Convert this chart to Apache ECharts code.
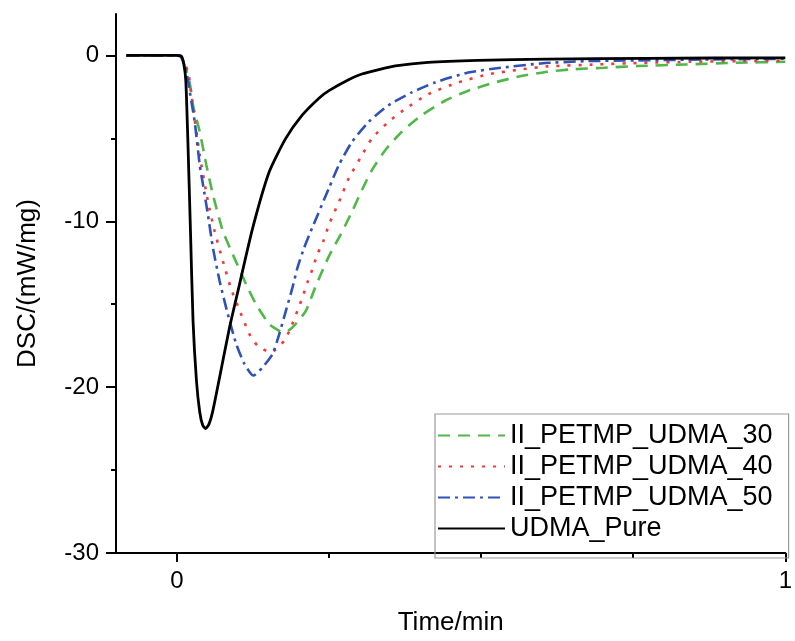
<!DOCTYPE html>
<html>
<head>
<meta charset="utf-8">
<script src="https://cdn.jsdelivr.net/npm/echarts@6/dist/echarts.min.js"></script>
<style>html,body{margin:0;padding:0;background:#fff;}#chart{width:795px;height:641px;}</style>
</head>
<body>
<div id="chart"></div>
<script>
// ---- data ----
const seriesNames = ['II_PETMP_UDMA_30', 'II_PETMP_UDMA_40', 'II_PETMP_UDMA_50', 'UDMA_Pure'];
const xTickLabels = [0, 1];
const yTickLabels = [-30, -20, -10, 0];

const p30Time = [-0.083, -0.01, 0, 0.007, 0.0201, 0.0266, 0.0376, 0.0485, 0.0593, 0.0757, 0.092, 0.1139, 0.1302, 0.152, 0.1683, 0.1765, 0.19, 0.212, 0.2283, 0.25, 0.2691, 0.2881, 0.3044, 0.3208, 0.3427, 0.3698, 0.4025, 0.4407, 0.4788, 0.5224, 0.5658, 0.6095, 0.6475, 0.7021, 0.7565, 0.8382, 0.9199, 1.0];
const p30Dsc  = [0, 0, 0, -0.1, -1.43, -3.0, -4.6, -6.6, -8.4, -10.6, -12.0, -13.8, -15.0, -16.2, -16.6, -16.7, -16.4, -15.4, -13.9, -12.1, -10.8, -9.4, -8.1, -6.9, -5.7, -4.6, -3.6, -2.73, -2.13, -1.63, -1.24, -0.98, -0.84, -0.74, -0.64, -0.54, -0.44, -0.38];

const p40Time = [-0.083, -0.01, 0, 0.007, 0.0185, 0.024, 0.0376, 0.0511, 0.0621, 0.0757, 0.0894, 0.1002, 0.1193, 0.1328, 0.1547, 0.1765, 0.1874, 0.1982, 0.2064, 0.2145, 0.2227, 0.2309, 0.2418, 0.25, 0.2691, 0.2827, 0.3044, 0.3208, 0.348, 0.3725, 0.4134, 0.4624, 0.5114, 0.5658, 0.6095, 0.6912, 0.7675, 0.8436, 0.9199, 1.0];
const p40Dsc  = [0, 0, 0, -0.1, -1.0, -2.4, -6.0, -8.8, -10.6, -12.4, -14.1, -15.1, -16.8, -17.5, -17.9, -17.2, -16.4, -15.4, -14.6, -13.7, -12.9, -12.0, -11.1, -10.2, -8.6, -7.4, -6.0, -5.0, -4.0, -3.3, -2.33, -1.63, -1.14, -0.84, -0.66, -0.54, -0.44, -0.38, -0.34, -0.32];

const p50Time = [-0.083, -0.01, 0, 0.007, 0.0158, 0.024, 0.0294, 0.0376, 0.043, 0.0511, 0.0593, 0.0703, 0.0838, 0.0976, 0.1111, 0.1258, 0.141, 0.1574, 0.1683, 0.1792, 0.19, 0.1982, 0.2092, 0.2201, 0.25, 0.2663, 0.2881, 0.3154, 0.348, 0.3861, 0.4243, 0.4788, 0.5332, 0.5985, 0.6748, 0.7565, 0.8655, 1.0];
const p50Dsc  = [0, 0, 0, -0.1, -1.0, -2.8, -4.0, -6.6, -7.8, -9.6, -11.6, -13.6, -15.6, -17.4, -18.6, -19.3, -18.8, -18.0, -16.8, -15.4, -14.0, -12.8, -11.6, -10.6, -8.0, -6.6, -5.2, -4.0, -3.0, -2.23, -1.63, -1.03, -0.74, -0.48, -0.34, -0.30, -0.24, -0.2];

const pureTime = [-0.083, -0.011, 0, 0.0077, 0.0114, 0.0147, 0.0180, 0.0224, 0.0266, 0.0322, 0.0376, 0.0425, 0.0474, 0.0531, 0.0593, 0.0703, 0.0866, 0.0992, 0.1247, 0.152, 0.179, 0.206, 0.234, 0.250, 0.283, 0.304, 0.332, 0.359, 0.413, 0.495, 0.609, 0.773, 1.0];
const pureDsc  = [0, 0, 0, -0.05, -0.5, -1.5, -5.0, -10.6, -16.0, -19.6, -21.5, -22.3, -22.5, -22.2, -21.4, -19.4, -16.4, -14.4, -10.4, -7.0, -5.0, -3.6, -2.56, -2.12, -1.45, -1.12, -0.85, -0.63, -0.42, -0.30, -0.22, -0.17, -0.14];

// ---- chart ----
function pairs(xs, ys) { return xs.map((x, i) => [x, ys[i]]); }
const FONT = '"Liberation Sans", Arial, sans-serif';
const chart = echarts.init(document.getElementById('chart'), null, { renderer: 'canvas' });

const lineSeries = (name, xs, ys, color, type, width) => ({
  name: name,
  type: 'line',
  data: pairs(xs, ys),
  xAxisIndex: 0,
  yAxisIndex: 0,
  symbol: 'none',
  smooth: 0.2,
  lineStyle: { color: color, width: width, type: type },
  itemStyle: { color: color },
  emphasis: { disabled: true },
  animation: false
});

chart.setOption({
  animation: false,
  backgroundColor: '#ffffff',
  grid: { left: 116, right: 6, top: 14, bottom: 83, containLabel: false },
  legend: {
    orient: 'vertical',
    left: 435,
    top: 414,
    data: seriesNames,
    itemWidth: 67,
    itemHeight: 2,
    itemGap: 4,
    padding: [8, 16, 16, 2],
    borderColor: '#9a9a9a',
    borderWidth: 1.2,
    itemStyle: { opacity: 0, borderWidth: 0 },
    textStyle: { fontFamily: FONT, fontSize: 27, color: '#000' },
    selectedMode: false
  },
  xAxis: [
    {
      type: 'value', min: -0.1, max: 1, position: 'bottom',
      name: 'Time/min', nameLocation: 'middle', nameGap: 57,
      nameTextStyle: { fontFamily: FONT, fontSize: 26, color: '#000' },
      axisLine: { show: true, onZero: false, lineStyle: { color: '#000', width: 2 } },
      axisTick: { show: true, inside: false, length: 9, customValues: xTickLabels, lineStyle: { color: '#000', width: 2 } },
      axisLabel: { show: true, customValues: xTickLabels, margin: 16, fontFamily: FONT, fontSize: 24, color: '#000' },
      splitLine: { show: false }
    },
    {
      type: 'value', min: -0.1, max: 1, position: 'bottom',
      axisLine: { show: false, onZero: false },
      axisTick: { show: true, inside: false, length: 5, customValues: [0.25, 0.5, 0.75], lineStyle: { color: '#000', width: 2 } },
      axisLabel: { show: false },
      splitLine: { show: false }
    }
  ],
  yAxis: [
    {
      type: 'value', min: -30, max: 2.5, position: 'left',
      name: 'DSC/(mW/mg)', nameLocation: 'middle', nameGap: 75,
      nameTextStyle: { fontFamily: FONT, fontSize: 26, color: '#000' },
      axisLine: { show: true, onZero: false, lineStyle: { color: '#000', width: 2 } },
      axisTick: { show: true, inside: false, length: 10, customValues: yTickLabels, lineStyle: { color: '#000', width: 2 } },
      axisLabel: { show: true, customValues: yTickLabels, margin: 17, fontFamily: FONT, fontSize: 24, color: '#000' },
      splitLine: { show: false }
    },
    {
      type: 'value', min: -30, max: 2.5, position: 'left',
      axisLine: { show: false, onZero: false },
      axisTick: { show: true, inside: false, length: 5, customValues: [-25, -15, -5], lineStyle: { color: '#000', width: 2 } },
      axisLabel: { show: false },
      splitLine: { show: false }
    }
  ],
  series: [
    lineSeries(seriesNames[0], p30Time, p30Dsc, '#4fb848', [12, 8], 2.6),
    lineSeries(seriesNames[1], p40Time, p40Dsc, '#f23a3a', [3, 8], 2.6),
    lineSeries(seriesNames[2], p50Time, p50Dsc, '#2f52b8', [12, 5, 3, 5], 2.6),
    lineSeries(seriesNames[3], pureTime, pureDsc, '#000000', 'solid', 2.8)
  ]
});
</script>
</body>
</html>
